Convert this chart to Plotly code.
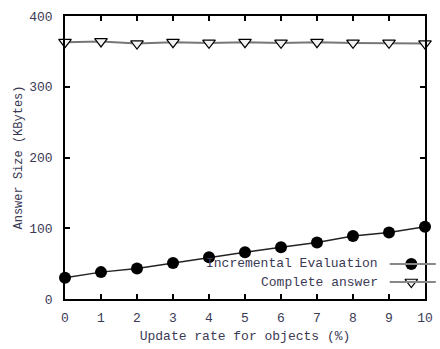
import plotly.graph_objects as go

update_rate = [0, 1, 2, 3, 4, 5, 6, 7, 8, 9, 10]
incremental = [30, 38, 43, 51, 59, 66, 73, 80, 89, 94, 102]
complete = [363, 364, 361, 363, 362, 363, 362, 363, 362, 362, 361]
series_names = ["Incremental Evaluation", "Complete answer"]
x_title = "Update rate for objects (%)"
y_title = "Answer Size (KBytes)"

FONT = "Liberation Mono"
TXT = "#3a3a55"

fig = go.Figure()
fig.add_trace(go.Scatter(
    x=update_rate, y=complete, mode="lines+markers", name=series_names[1],
    line=dict(color="#777777", width=2),
    marker=dict(symbol="triangle-down", size=11, color="#f2f2f2",
                line=dict(color="black", width=1.2)),
    cliponaxis=False, showlegend=False))
fig.add_trace(go.Scatter(
    x=update_rate, y=incremental, mode="lines+markers", name=series_names[0],
    line=dict(color="#222222", width=1.5),
    marker=dict(symbol="circle", size=12, color="black"),
    cliponaxis=False, showlegend=False))

# legend drawn gnuplot-style (text, then sample)
leg_y = [0.124, 0.060]
leg_sym = [dict(symbol="circle", size=12, color="black"),
           dict(symbol="triangle-down", size=11, color="#f2f2f2",
                line=dict(color="black", width=1.2))]
for name, yy, sym in zip(series_names, leg_y, leg_sym):
    fig.add_annotation(x=0.875, y=yy, xref="paper", yref="paper", text=name,
                       showarrow=False, xanchor="right", yanchor="middle",
                       font=dict(family=FONT, size=13, color=TXT))
    fig.add_shape(type="line", xref="paper", yref="paper", x0=0.902, x1=1.03,
                  y0=yy, y1=yy, line=dict(color="#888888", width=2))
    fig.add_trace(go.Scatter(x=[0.962], y=[yy], xaxis="x2", yaxis="y2",
                             mode="markers", marker=sym, showlegend=False,
                             cliponaxis=False, hoverinfo="skip"))

axis_common = dict(showline=True, linecolor="black", linewidth=1.5, mirror="ticks",
                   ticks="inside", ticklen=5, tickwidth=1.5, tickcolor="black",
                   showgrid=False, zeroline=False,
                   tickfont=dict(family=FONT, size=13, color=TXT))

fig.update_layout(
    width=440, height=349,
    margin=dict(l=65, r=7, t=16, b=50),
    paper_bgcolor="white", plot_bgcolor="white",
    xaxis=dict(range=[0, 10], dtick=1, title=dict(text=x_title, standoff=6,
               font=dict(family=FONT, size=13, color=TXT)), ticklabelstandoff=6, **axis_common),
    yaxis=dict(range=[0, 400], dtick=100, title=dict(text=y_title, standoff=4,
               font=dict(family=FONT, size=12, color=TXT)), ticklabelstandoff=8, **axis_common),
    xaxis2=dict(range=[0, 1], overlaying="x", visible=False),
    yaxis2=dict(range=[0, 1], overlaying="y", visible=False),
)

fig.write_html("out.html", config={"displayModeBar": False},
               post_script="document.body.style.margin='0';")
